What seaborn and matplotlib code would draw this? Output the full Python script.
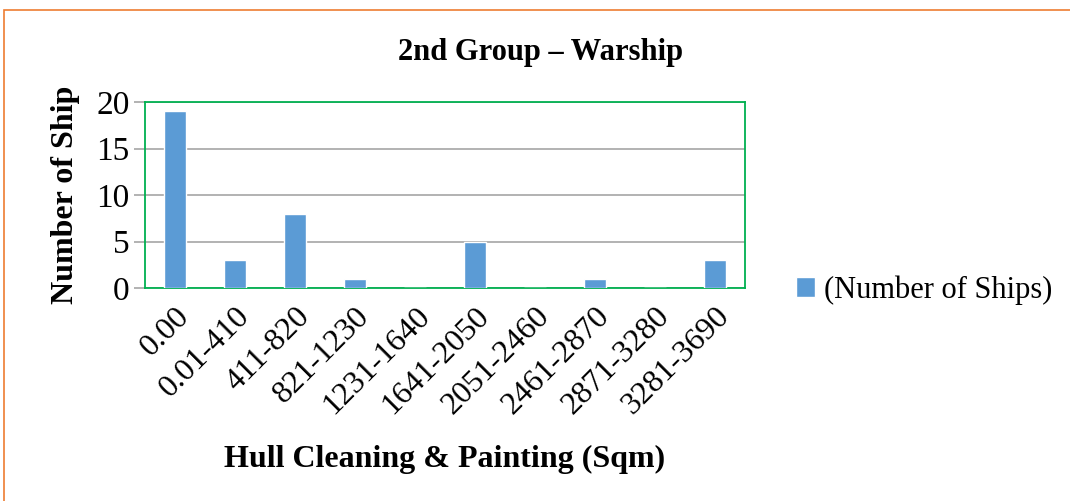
import pandas as pd
import matplotlib.pyplot as plt
import seaborn as sns
from matplotlib.patches import Rectangle

# ranges of hull area (sqm) and how many warships fall in each
ranges = ["0.00", "0.01-410", "411-820", "821-1230", "1231-1640", "1641-2050",
          "2051-2460", "2461-2870", "2871-3280", "3281-3690"]
ships = [19, 3, 8, 1, 0, 5, 0, 1, 0, 3]

df = pd.DataFrame({"range": ranges, "ships": ships})

sns.set_style("white")
plt.rcParams['font.family'] = ['Liberation Serif', 'DejaVu Serif']
plt.rcParams['text.color'] = 'black'
plt.rcParams['axes.labelcolor'] = 'black'
plt.rcParams['xtick.color'] = 'black'
plt.rcParams['ytick.color'] = 'black'

fig = plt.figure(figsize=(10.7, 5.01), dpi=100)
ax = fig.add_axes([145 / 1070, 1 - 288 / 501, 600 / 1070, 186 / 501])

sns.barplot(data=df, x="range", y="ships", color="#5B9BD5", saturation=1,
            width=0.37, ax=ax, label="(Number of Ships)", zorder=3)

ax.set_ylim(0, 20)
ax.set_xlim(-0.5, 9.5)
ax.set_yticks([0, 5, 10, 15, 20])
ax.yaxis.grid(True, color="#A6A6A6", linewidth=1.2, zorder=0)
ax.set_axisbelow(True)
for s in ax.spines.values():
    s.set_visible(True)
    s.set_color("#00B050")
    s.set_linewidth(1.3)

ax.tick_params(axis="y", labelsize=24, length=8, color="#A6A6A6", width=1.2, pad=3,
               direction="out", left=True)
ax.tick_params(axis="x", labelsize=23, length=0, pad=10)
plt.setp(ax.get_xticklabels(), rotation=45, ha="right", rotation_mode="anchor")

ax.set_xlabel("Hull Cleaning & Painting (Sqm)", fontsize=23, fontweight="bold", labelpad=18)
ax.set_ylabel("Number of Ship", fontsize=23, fontweight="bold", labelpad=12)

fig.suptitle("2nd Group – Warship", fontsize=22, fontweight="bold", x=0.505, y=0.925)

ax.legend(loc="center left", bbox_to_anchor=(784 / 1070, 1 - 290 / 501),
          bbox_transform=fig.transFigure, frameon=False, fontsize=22,
          handlelength=0.6, handleheight=0.6, handletextpad=0.3, borderaxespad=0)

# orange chart border
fig.patches.append(Rectangle((4 / 1070, -0.1), 1.2, 1 - 10 / 501 + 0.1, transform=fig.transFigure,
                             fill=False, edgecolor="#ED7D31", linewidth=1.2))

fig.savefig("out.png", dpi=100)
